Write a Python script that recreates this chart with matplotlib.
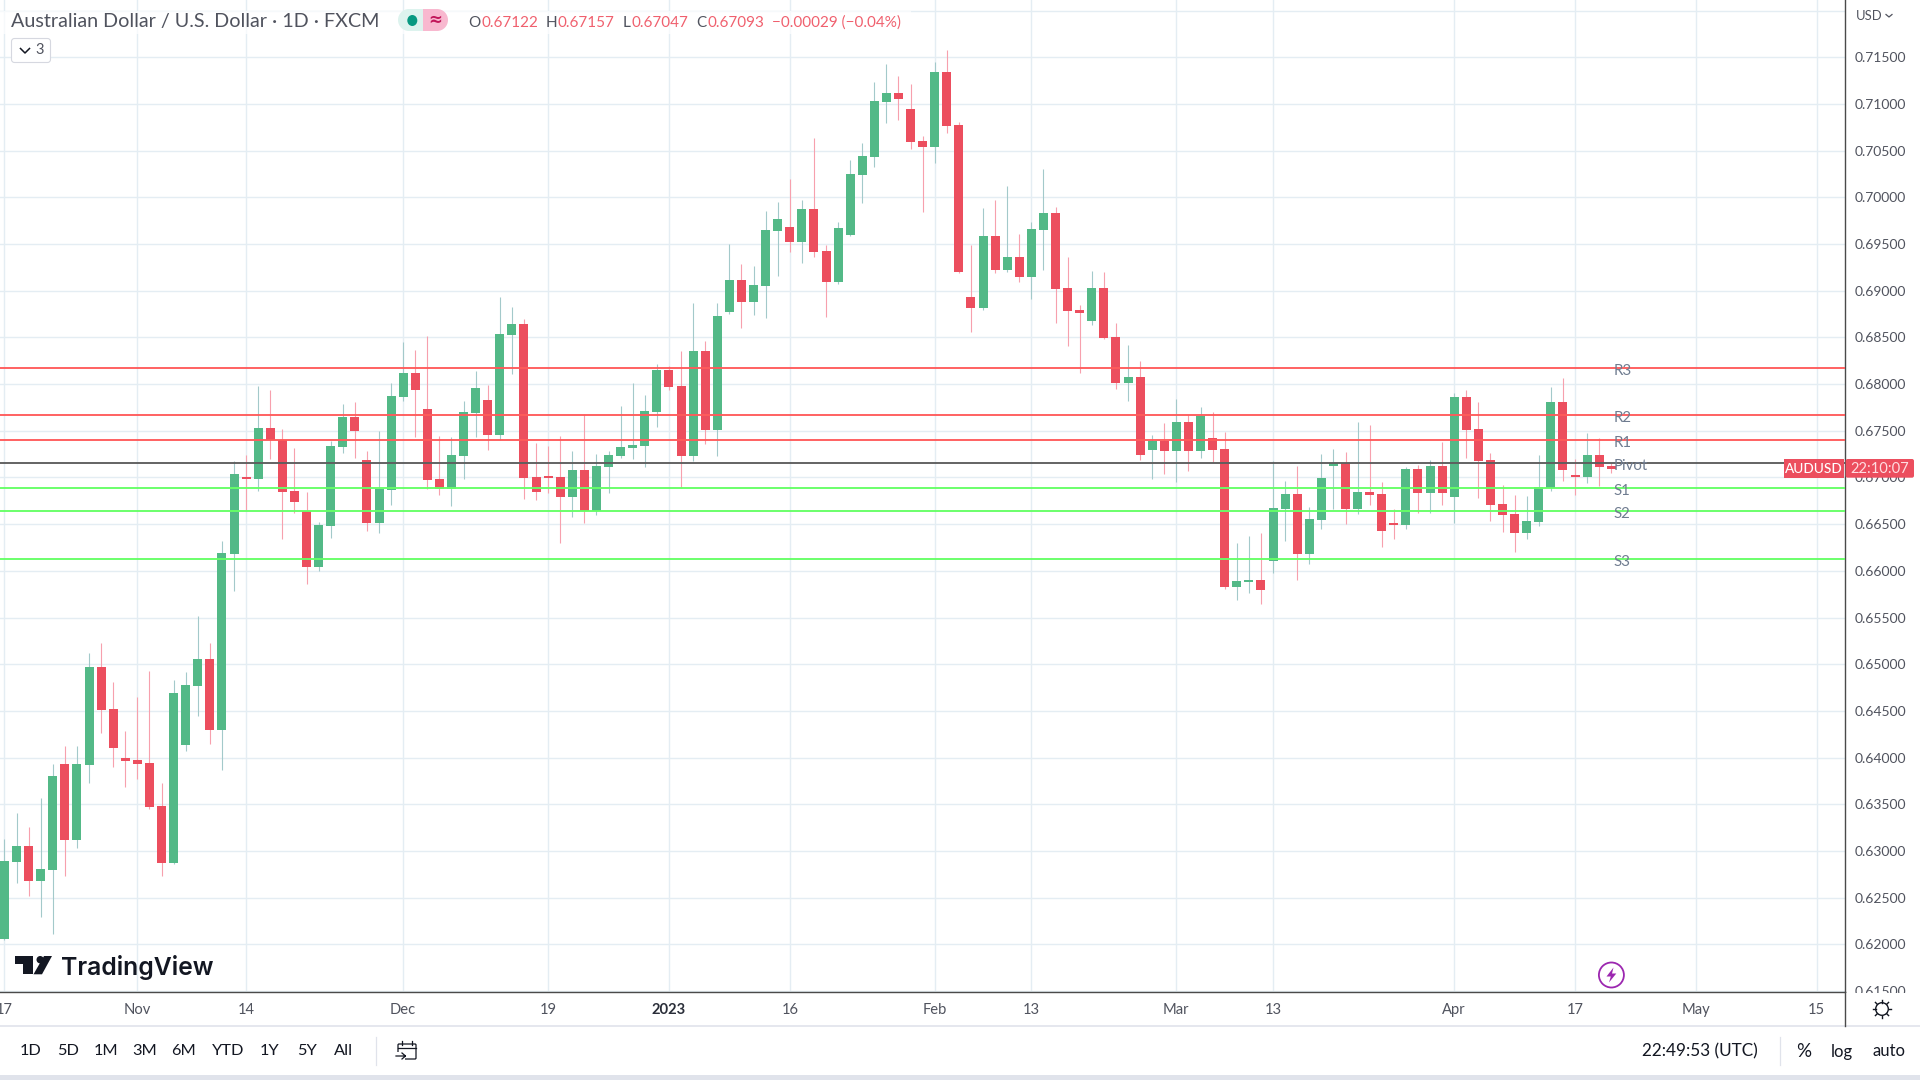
import numpy as np
import matplotlib
matplotlib.use("Agg")
import matplotlib.pyplot as plt
from matplotlib.patches import Rectangle, FancyBboxPatch, Circle, Polygon, Ellipse

plt.rcParams['font.family'] = ['Lato', 'DejaVu Sans']

# Daily AUD/USD candles, prices in points (1e-5)
highs = [63128,63407,63257,63567,63932,64124,64124,65120,65227,64810,
         64285,64649,64928,63728,64831,64917,65517,65227,66320,67177,
         67241,67980,67937,67519,67316,66845,66523,67391,67787,67809,
         67284,67498,68012,68451,68365,68515,67444,67434,67819,68141,
         67991,68933,68826,68698,67369,67337,67444,67284,67680,67252,
         67284,67766,68012,67884,68216,68194,68355,68869,68462,68869,
         69501,69287,69265,69854,69951,70197,69972,70636,69490,69736,
         70400,70582,71236,71429,71300,71214,70657,71450,71578,70807,
         69490,69886,69972,70122,69608,69736,70304,69897,69362,68847,
         69212,69201,68655,68419,68248,67455,67584,67841,67669,67755,
         67701,67487,66298,66373,66406,67177,66962,67123,66684,67252,
         67305,67273,67594,67562,66952,66663,67112,67134,67187,67380,
         67905,67937,67809,67262,66920,66813,66802,67241,67969,68066,
         67198,67477,67423,67157]
lows = [62047,62657,62518,62293,62111,62732,63032,63728,64264,63899,
        63685,63771,63450,62732,62861,64071,64446,64146,63867,65784,
        66652,66855,67198,66341,66620,65859,65999,66352,67262,67209,
        66427,66406,66705,67819,67434,66877,66813,66695,66984,67434,
        67294,67402,68108,66770,66759,66834,66298,66577,66513,66598,
        66834,67209,67198,67112,67541,67937,66888,67177,67359,67230,
        68751,68601,68740,68708,69158,69415,69297,69362,68719,69072,
        69587,69940,70325,70797,70829,70518,69843,70368,70690,69190,
        68558,68794,69190,69201,69094,68912,69222,68655,68408,68119,
        68633,68483,67948,67819,67187,66984,67037,66952,67070,67209,
        67166,65806,65688,65763,65645,65977,66320,65902,66074,66448,
        66663,66502,66609,66705,66256,66341,66448,66620,66620,66705,
        66513,67209,66780,66534,66416,66202,66341,66481,66855,66962,
        66813,66941,66909,67047]
opens = [62057,62882,63053,62678,62796,63932,63118,63921,64970,64521,
         63996,63974,63942,63482,62871,64135,64767,65056,64296,66181,
         67005,66984,67530,67402,66855,66641,66041,66481,67327,67648,
         67187,66513,66866,67862,68119,67734,66984,66877,67230,67691,
         67830,67455,68526,68644,67005,67016,67005,66791,67080,66641,
         67112,67230,67316,67337,67701,68151,67980,67230,68355,67509,
         68772,69115,68880,69051,69640,69683,69522,69876,69426,69094,
         69597,70240,70433,71022,71118,70947,70604,70540,71343,70775,
         68933,68815,69586,69222,69362,69147,69651,69833,69030,68794,
         68676,69030,68505,68012,68076,67294,67391,67284,67594,67284,
         67423,67305,65827,65881,65902,66106,66663,66823,66181,66545,
         67123,67155,66663,66845,66823,66513,66491,67091,66834,67123,
         66791,67862,67519,67187,66716,66609,66406,66523,66888,67809,
         67027,67005,67241,67122]
closes = [62893,63053,62678,62807,63803,63118,63932,64970,64510,64103,
          63964,63932,63471,62871,64692,64778,65056,64296,66191,67037,
          66984,67530,67402,66845,66738,66041,66491,67337,67648,67498,
          66513,66877,67873,68119,67937,66973,66877,67241,67701,67959,
          67455,68537,68644,66995,66845,66995,66791,67080,66641,67123,
          67241,67327,67348,67712,68151,67969,67230,68355,67509,68730,
          69115,68880,69062,69651,69769,69522,69876,69415,69094,69672,
          70250,70443,71032,71118,71054,70593,70540,71343,70765,69201,
          68815,69586,69222,69362,69147,69661,69833,69019,68783,68762,
          69030,68494,68012,68076,67241,67391,67284,67594,67284,67659,
          67294,65827,65891,65902,65795,66673,66823,66181,66556,66995,
          67155,66663,66845,66813,66427,66491,67091,66834,67123,66834,
          67862,67509,67177,66705,66598,66406,66534,66898,67809,67080,
          67005,67241,67112,67093]

level_names = ["R3", "R2", "R1", "Pivot", "S1", "S2", "S3"]
level_values = [0.68173, 0.67669, 0.67402, 0.67155, 0.66888, 0.66641, 0.66127]
level_colors = ["#FF5B5B", "#FF5B5B", "#FF5B5B", "#5D5D5D", "#66FF66", "#66FF66", "#66FF66"]

price_ticks = [0.615, 0.62, 0.625, 0.63, 0.635, 0.64, 0.645, 0.65, 0.655, 0.66, 0.665, 0.67,
               0.675, 0.68, 0.685, 0.69, 0.695, 0.70, 0.705, 0.71, 0.715, 0.72]
date_ticks = [0, 11, 20, 33, 45, 55, 65, 77, 85, 97, 105, 120, 130, 140, 150]
date_labels = ["17", "Nov", "14", "Dec", "19", "2023", "16", "Feb", "13", "Mar", "13", "Apr", "17", "May", "15"]
ranges = ["1D", "5D", "1M", "3M", "6M", "YTD", "1Y", "5Y", "All"]
range_x = [30.6, 67.8, 106, 145, 184, 228, 270, 307, 344]

GREEN, RED = "#53B987", "#EC4E5E"
GW, RW = "#A3C9CA", "#F7A0AD"
GRID = "#E4EDF3"
AXIS = "#4A4A4A"
TXT = "#50535E"

W, H = 1920, 1080
fig = plt.figure(figsize=(W / 100, H / 100), dpi=100, facecolor="white")
ax = fig.add_axes([0, 1 - 992 / H, 1845.3 / W, 992 / H])
ax.set_xlim(-0.372, 152.37)
ax.set_ylim(0.61489, 0.721137)
ax.set_axisbelow(True)
ax.grid(True, color=GRID, lw=1.0)
for s in ("top", "left"):
    ax.spines[s].set_visible(False)
for s in ("right", "bottom"):
    ax.spines[s].set_color(AXIS)
    ax.spines[s].set_linewidth(1.0)

o = np.array(opens) / 1e5
c = np.array(closes) / 1e5
hi = np.array(highs) / 1e5
lo = np.array(lows) / 1e5
x = np.arange(len(o))
up = c > o
ax.vlines(x[up], lo[up], hi[up], color=GW, lw=0.8, zorder=2)
ax.vlines(x[~up], lo[~up], hi[~up], color=RW, lw=0.8, zorder=2)
ax.bar(x[up], (c - o)[up], bottom=o[up], width=0.745, color=GREEN, lw=0, zorder=3)
ax.bar(x[~up], (c - o)[~up], bottom=o[~up], width=0.745, color=RED, lw=0, zorder=3)

for name, val, col in zip(level_names, level_values, level_colors):
    ax.axhline(val, color=col, lw=1.35, zorder=4)
    ax.annotate(name, (133.2, val), xytext=(0, -2.4), textcoords="offset points",
                ha="left", va="center", fontsize=10.8, color="#6F7C90", zorder=5)

ax.yaxis.tick_right()
ax.set_yticks(price_ticks)
ax.set_yticklabels([f"{t:.5f}" if t < 0.7175 else "" for t in price_ticks])
ax.tick_params(axis="y", length=0, pad=6.5, labelsize=10.0, labelcolor=TXT)
ax.set_xticks(date_ticks)
ax.set_xticklabels(date_labels)
ax.tick_params(axis="x", length=0, pad=7.8, labelsize=10.6, labelcolor=TXT)
for lab in ax.get_xticklabels():
    if lab.get_text() == "2023":
        lab.set_fontweight("bold")
        lab.set_color("#2A2E39")

# interface chrome, drawn in pixel coordinates
ui = fig.add_axes([0, 0, 1, 1], zorder=10)
ui.set_xlim(0, W)
ui.set_ylim(H, 0)
ui.axis("off")
ui.patch.set_alpha(0)

ui.add_patch(Rectangle((1846, 992.6), 74, 12, color="white", lw=0))
ui.add_patch(Rectangle((0, 10.8), 911, 23, color="white", alpha=0.7, lw=0))
ui.plot([0, 1920], [1026, 1026], color="#E0E3EB", lw=1.2)
ui.plot([1845.3, 1845.3], [992, 1026], color=AXIS, lw=1.0)
ui.add_patch(Rectangle((0, 1075), 1920, 5, color="#E0E3EB", lw=0))

ui.text(11, 22, "Australian Dollar / U.S. Dollar · 1D · FXCM", fontsize=14.2, color=TXT, va="center", ha="left")
ui.add_patch(FancyBboxPatch((409, 9), 28, 22, boxstyle="round,pad=0,rounding_size=0", color="#F8B8CF", lw=0))
ui.add_patch(Ellipse((437, 20), 22, 22, color="#F8B8CF", lw=0))
ui.add_patch(Ellipse((409, 20), 22, 22, color="#DDF3EE", lw=0))
ui.add_patch(Rectangle((409, 9), 14, 22, color="#DDF3EE", lw=0))
ui.add_patch(Ellipse((412.3, 20.5), 10, 11, color="#089981", lw=0))
ui.text(435, 20, "≈", fontsize=12, color="#C2185B", ha="center", va="center", fontweight="bold", family="DejaVu Sans")

val_c = "#F0606E"
for xp, s, col in [(468.5, "O", TXT), (481, "0.67122", val_c), (546, "H", TXT), (557, "0.67157", val_c),
                   (622.4, "L", TXT), (631.4, "0.67047", val_c), (696, "C", TXT), (707, "0.67093", val_c),
                   (771.8, "−0.00029 (−0.04%)", val_c)]:
    ui.text(xp, 22.7, s, fontsize=11, color=col, va="center", ha="left")

ui.add_patch(FancyBboxPatch((11.5, 38.5), 39, 24, boxstyle="round,pad=0,rounding_size=3", fc="white", ec="#D6D8E0", lw=0.8))
ui.plot([20.5, 25, 29.5], [48.5, 53, 48.5], color="#131722", lw=1.1)
ui.text(40, 50, "3", fontsize=10.5, color=TXT, ha="center", va="center")

ui.add_patch(Rectangle((1784, 459), 59.5, 18.7, color=RED, lw=0))
ui.text(1813.7, 468.7, "AUDUSD", fontsize=9.8, color="white", ha="center", va="center", fontweight="medium")
ui.add_patch(FancyBboxPatch((1845.6, 459), 68.4, 18.7, boxstyle="round,pad=0,rounding_size=2", color=RED, lw=0))
ui.text(1880, 468.7, "22:10:07", fontsize=10.6, color="#FFDDE1", ha="center", va="center")

ui.text(1869, 16, "USD", fontsize=9.4, color=TXT, ha="center", va="center")
ui.plot([1886, 1889, 1892], [14.5, 17, 14.5], color=TXT, lw=0.9)

# logo
ui.add_patch(Polygon([(15, 956), (33, 956), (33, 974.3), (23, 974.3), (23, 963.5), (15, 963.5)], color="#131722", lw=0))
ui.add_patch(Circle((40.2, 959.7), 3.7, color="#131722", lw=0))
ui.add_patch(Polygon([(44, 956), (52, 956), (42, 974.3), (33.5, 974.3)], color="#131722", lw=0))
ui.text(61, 967.5, "TradingView", family=["Inter", "DejaVu Sans"], fontsize=17.8, fontweight="semibold", color="#131722",
        ha="left", va="center")

# bottom toolbar
for xp, s in zip(range_x, ranges):
    ui.text(xp, 1051, s, fontsize=11.8, color="#131722", ha="center", va="center")
ui.plot([375.5, 375.5], [1037, 1065], color="#E0E3EB", lw=0.9)
ui.add_patch(FancyBboxPatch((398, 1044), 18, 15, boxstyle="round,pad=0,rounding_size=1", fc="white", ec="#131722", lw=0.9))
ui.plot([398, 416], [1048, 1048], color="#131722", lw=0.9)
ui.plot([402, 402, np.nan, 412, 412], [1041, 1045, np.nan, 1041, 1045], color="#131722", lw=0.9)
ui.add_patch(Rectangle((396, 1052), 9, 8, color="white", lw=0))
ui.plot([396, 405, np.nan, 402, 405.5, 402], [1056, 1056, np.nan, 1053, 1056, 1059], color="#131722", lw=0.9)

ui.text(1699.6, 1051.5, "22:49:53 (UTC)", fontsize=12.3, color="#131722", ha="center", va="center")
ui.plot([1779.6, 1779.6], [1037, 1065], color="#E0E3EB", lw=0.9)
ui.text(1803.7, 1051.5, "%", fontsize=13.5, color="#131722", ha="center", va="center")
ui.text(1842, 1051.5, "log", fontsize=12, color="#131722", ha="center", va="center")
ui.text(1889, 1051.5, "auto", fontsize=12, color="#131722", ha="center", va="center")

# settings gear
ui.add_patch(Circle((1882, 1009), 6.3, fc="white", ec="#131722", lw=1.0))
for a in np.deg2rad(np.arange(0, 360, 45)):
    ui.plot([1882 + 6.5 * np.cos(a), 1882 + 9.3 * np.cos(a)], [1009 + 6.5 * np.sin(a), 1009 + 9.3 * np.sin(a)],
            color="#131722", lw=1.0)

# news bolt
ui.add_patch(Ellipse((1611.4, 975), 25, 25, fc="white", ec="#9C27B0", lw=1.3))
ui.add_patch(Polygon([(1613.5, 967.5), (1606.5, 976.5), (1610.8, 976.5), (1609, 982.5), (1616.3, 973.5), (1612, 973.5)],
                     color="#9C27B0", lw=0))

fig.savefig("out.png", dpi=100)
